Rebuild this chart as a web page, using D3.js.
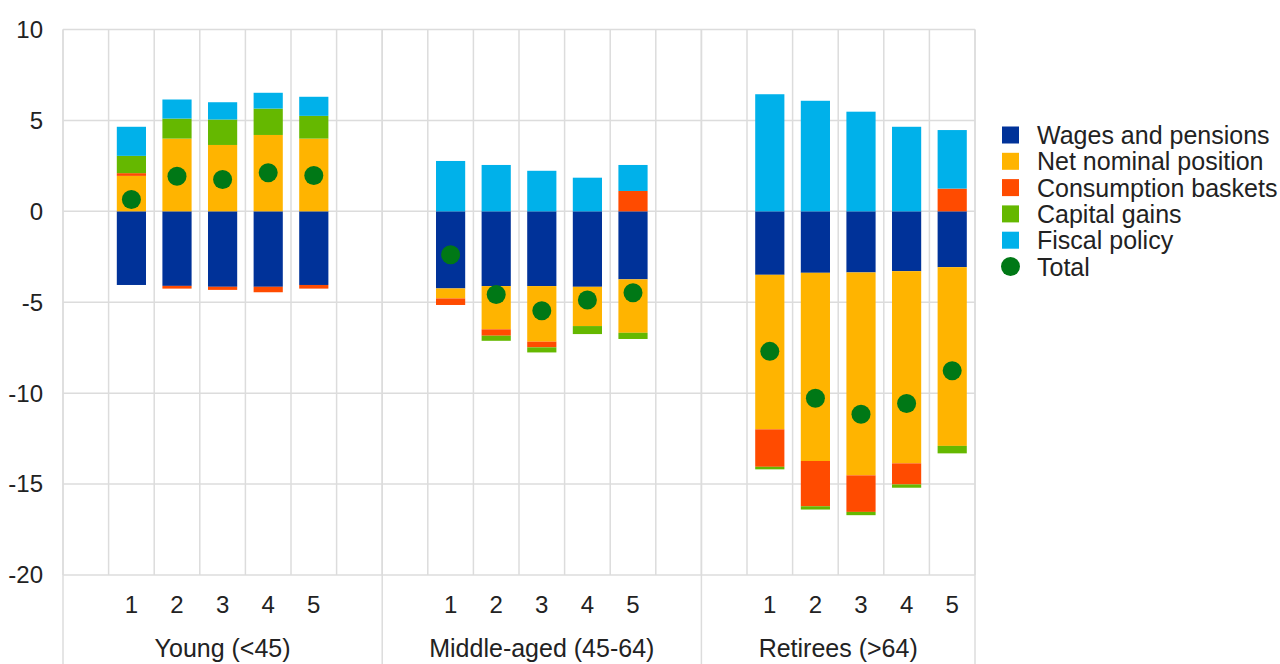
<!DOCTYPE html>
<html>
<head>
<meta charset="utf-8">
<script src="https://cdn.jsdelivr.net/npm/d3@7"></script>
<style>
  html, body { margin: 0; padding: 0; background: #fff; }
  svg { display: block; font-family: "Liberation Sans", Arial, sans-serif; }
</style>
</head>
<body>
<svg id="chart" width="1280" height="664"></svg>
<script>
// ---- Data ----
const groups = ["Young (<45)", "Middle-aged (45-64)", "Retirees (>64)"];
const quintiles = ["1", "2", "3", "4", "5"];
const seriesNames = ["Wages and pensions", "Net nominal position", "Consumption baskets", "Capital gains", "Fiscal policy"];
const totalName = "Total";
const seriesColors = ["#003299", "#FFB400", "#FF4B00", "#65B800", "#00B1EA"];
const totalColor = "#007816";

// values per group x quintile (Young 1-5, Middle-aged 1-5, Retirees 1-5)
const wages        = [-4.05, -4.10, -4.15, -4.15, -4.05,  -4.24, -4.11, -4.11, -4.15, -3.74,  -3.49, -3.38, -3.36, -3.29, -3.07];
const netNominal   = [ 1.95,  4.00,  3.65,  4.20,  4.00,  -0.55, -2.38, -3.06, -2.16, -2.94,  -8.50,-10.35,-11.16,-10.57, -9.83];
const consumption  = [ 0.15, -0.15, -0.17, -0.30, -0.20,  -0.36, -0.35, -0.31,  0.00,  1.12,  -2.06, -2.49, -2.01, -1.16,  1.25];
const capitalGains = [ 0.95,  1.10,  1.40,  1.45,  1.25,   0.00, -0.28, -0.28, -0.44, -0.34,  -0.14, -0.18, -0.18, -0.18, -0.41];
const fiscal       = [ 1.60,  1.05,  0.95,  0.87,  1.05,   2.77,  2.55,  2.23,  1.85,  1.43,   6.44,  6.08,  5.48,  4.65,  3.22];
const total        = [ 0.65,  1.93,  1.75,  2.12,  1.97,  -2.39, -4.57, -5.47, -4.88, -4.48,  -7.70,-10.28,-11.16,-10.57, -8.77];
const yTicks = [10, 5, 0, -5, -10, -15, -20];

// ---- Build rows ----
const seriesValues = [wages, netNominal, consumption, capitalGains, fiscal];
const rows = [];
groups.forEach((g, gi) => {
  quintiles.forEach((q, qi) => {
    const i = gi * quintiles.length + qi;
    const r = { key: g + "|" + q, group: g, q: q, total: total[i] };
    seriesNames.forEach((s, si) => r[s] = seriesValues[si][i]);
    rows.push(r);
  });
});

// category slots (empty slot before each group, and after all but the last)
const slots = [];
groups.forEach((g, gi) => {
  slots.push(g + "|padA");
  quintiles.forEach(q => slots.push(g + "|" + q));
  if (gi < groups.length - 1) slots.push(g + "|padB");
});

// ---- Layout ----
const svg = d3.select("#chart");
const plotL = 63, plotR = 975, plotT = 29.5, plotB = 575;

const x = d3.scaleBand().domain(slots).range([plotL, plotR]).paddingInner(0.36).paddingOuter(0.18);
const y = d3.scaleLinear().domain([-20, 10]).range([plotB, plotT]);
const step = x.step();

const gridColor = "#dcdcdc";

// horizontal grid
svg.append("g").selectAll("line").data(yTicks).join("line")
  .attr("x1", plotL).attr("x2", plotR)
  .attr("y1", d => y(d)).attr("y2", d => y(d))
  .attr("stroke", gridColor).attr("stroke-width", 1.5);

// vertical grid at slot boundaries
const boundaries = slots.map((k, i) => plotL + i * step);
boundaries.push(plotR);
svg.append("g").selectAll("line").data(boundaries).join("line")
  .attr("x1", d => d).attr("x2", d => d)
  .attr("y1", plotT).attr("y2", plotB)
  .attr("stroke", gridColor).attr("stroke-width", 1.5);

// group separators extending through label area
const groupEdges = [plotL];
let count = 0;
groups.forEach((g, gi) => {
  count += quintiles.length + 1 + (gi < groups.length - 1 ? 1 : 0);
  groupEdges.push(plotL + count * step);
});
svg.append("g").selectAll("line").data(groupEdges).join("line")
  .attr("x1", d => d).attr("x2", d => d)
  .attr("y1", plotT).attr("y2", 664)
  .attr("stroke", gridColor).attr("stroke-width", 1.5);

// y axis labels
svg.append("g").selectAll("text").data(yTicks).join("text")
  .attr("x", 43).attr("y", d => y(d)).attr("dy", "0.35em")
  .attr("text-anchor", "end").attr("font-size", 24).attr("fill", "#222")
  .text(d => d);

// ---- Stacked bars ----
const stack = d3.stack().keys(seriesNames).offset(d3.stackOffsetDiverging);
const stacked = stack(rows);
svg.append("g").selectAll("g").data(stacked).join("g")
  .attr("fill", (d, i) => seriesColors[i])
  .selectAll("rect").data(d => d).join("rect")
  .attr("x", d => x(d.data.key))
  .attr("width", x.bandwidth())
  .attr("y", d => y(Math.max(d[0], d[1])))
  .attr("height", d => Math.abs(y(d[0]) - y(d[1])));

// total dots
svg.append("g").selectAll("circle").data(rows).join("circle")
  .attr("cx", d => x(d.key) + x.bandwidth() / 2)
  .attr("cy", d => y(d.total))
  .attr("r", 9.5)
  .attr("fill", totalColor);

// quintile labels
svg.append("g").selectAll("text").data(rows).join("text")
  .attr("x", d => x(d.key) + x.bandwidth() / 2)
  .attr("y", 613)
  .attr("text-anchor", "middle").attr("font-size", 24).attr("fill", "#222")
  .text(d => d.q);

// group labels
svg.append("g").selectAll("text").data(groups).join("text")
  .attr("x", (d, i) => (groupEdges[i] + groupEdges[i + 1]) / 2)
  .attr("y", 657)
  .attr("text-anchor", "middle").attr("font-size", 25).attr("fill", "#222")
  .text(d => d);

// ---- Legend ----
const legendItems = seriesNames.map((s, i) => ({ name: s, color: seriesColors[i], type: "rect" }))
  .concat([{ name: totalName, color: totalColor, type: "circle" }]);
const lg = svg.append("g");
const rowY = i => 135 + i * 26.3;
legendItems.forEach((d, i) => {
  if (d.type === "rect") {
    lg.append("rect").attr("x", 1002).attr("y", rowY(i) - 8.5).attr("width", 17).attr("height", 17).attr("fill", d.color);
  } else {
    lg.append("circle").attr("cx", 1010.5).attr("cy", rowY(i)).attr("r", 9.5).attr("fill", d.color);
  }
  lg.append("text").attr("x", 1037).attr("y", rowY(i)).attr("dy", "0.36em")
    .attr("font-size", 25).attr("fill", "#222")
    .text(d.name);
});
</script>
</body>
</html>
